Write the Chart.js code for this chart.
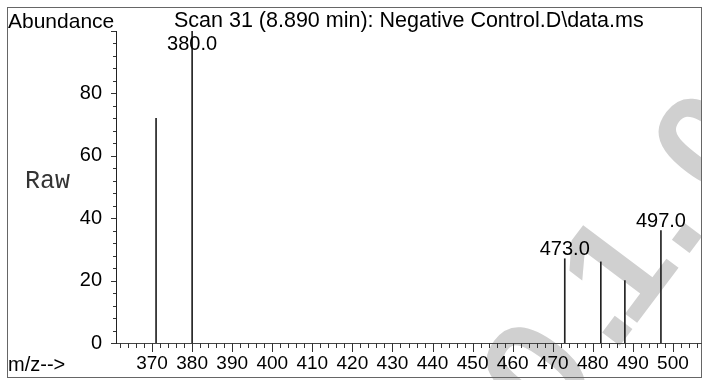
<!DOCTYPE html>
<html>
<head>
<meta charset="utf-8">
<script src="https://cdn.jsdelivr.net/npm/chart.js@4.4.0/dist/chart.umd.min.js"></script>
<style>
  html, body { margin: 0; padding: 0; background: #fff; }
</style>
</head>
<body>
<canvas id="spectrum" width="702" height="380"></canvas>
<script>
// peaks
const mz = [371, 380, 473, 482, 488, 497];
const abundance = [72, 100, 27, 26, 20, 36];
const peakLabels = ['', '380.0', '473.0', '', '', '497.0'];

const xTicks = [370, 380, 390, 400, 410, 420, 430, 440, 450, 460, 470, 480, 490, 500];
const yTicks = [0, 20, 40, 60, 80];

const FONT = '"Liberation Sans", Arial, Helvetica, sans-serif';

// faint watermark glyphs: [char, offset along its baseline]
const markChars = [['0', -150], ['.', -68], ['1', -18], ['.', 48], ['0', 136]];

const decorations = {
    id: 'decorations',
    beforeDraw(chart) {
        const ctx = chart.ctx;
        ctx.save();
        // watermark, rotated text behind everything
        ctx.translate(667, 283);
        ctx.rotate(-53 * Math.PI / 180);
        ctx.fillStyle = '#d0d0d0';
        ctx.font = 'bold 148px ' + FONT;
        ctx.textAlign = 'center';
        ctx.textBaseline = 'alphabetic';
        markChars.forEach(([ch, s]) => ctx.fillText(ch, s, 0));
        ctx.restore();

        ctx.save();
        ctx.strokeStyle = '#666';
        ctx.lineWidth = 1;
        ctx.strokeRect(7.5, 7.5, 694, 370);
        ctx.restore();
    },
    afterDraw(chart) {
        const ctx = chart.ctx;
        const x = chart.scales.x;
        const y = chart.scales.y;
        ctx.save();
        ctx.strokeStyle = '#333';
        ctx.lineWidth = 1;
        ctx.beginPath();
        for (let v = 362; v <= 506; v += 2) {
            const px = Math.round(x.getPixelForValue(v)) + 0.5;
            const len = v % 10 === 0 ? 9 : 5;
            ctx.moveTo(px, y.bottom);
            ctx.lineTo(px, y.bottom + len);
        }
        for (let v = 0; v <= 100; v += 4) {
            const py = Math.round(y.getPixelForValue(v)) + 0.5;
            const len = v % 20 === 0 ? 5 : 3;
            ctx.moveTo(x.left, py);
            ctx.lineTo(x.left - len, py);
        }
        ctx.stroke();

        ctx.fillStyle = '#000';
        ctx.textBaseline = 'alphabetic';
        ctx.textAlign = 'left';
        ctx.font = '21px ' + FONT;
        ctx.fillText('Abundance', 8, 28);
        ctx.font = '21.5px ' + FONT;
        ctx.fillText('Scan 31 (8.890 min): Negative Control.D\\data.ms', 174, 27);
        ctx.font = '20px ' + FONT;
        ctx.fillText('m/z-->', 8, 371);
        ctx.fillStyle = '#333';
        ctx.font = '25px "Courier New", "Liberation Mono", monospace';
        ctx.fillText('Raw', 25, 188);

        // peak labels above the stems
        ctx.fillStyle = '#000';
        ctx.font = '20px ' + FONT;
        ctx.textAlign = 'center';
        mz.forEach((m, i) => {
            if (!peakLabels[i]) return;
            const px = x.getPixelForValue(m);
            const py = Math.max(y.getPixelForValue(abundance[i]) - 4, 50);
            ctx.fillText(peakLabels[i], px, py);
        });
        ctx.restore();
    }
};

new Chart(document.getElementById('spectrum'), {
    type: 'bar',
    data: {
        datasets: [{
            data: mz.map((m, i) => ({ x: m, y: abundance[i] })),
            backgroundColor: '#222',
            barThickness: 1
        }]
    },
    options: {
        responsive: false,
        animation: false,
        devicePixelRatio: 1,
        layout: { padding: { left: 0, top: 31, right: 1, bottom: 0 } },
        plugins: { legend: { display: false }, tooltip: { enabled: false } },
        scales: {
            x: {
                type: 'linear',
                min: 361,
                max: 507,
                offset: false,
                grid: { display: false, offset: false },
                border: { display: true, color: '#444', width: 1 },
                afterBuildTicks: scale => { scale.ticks = xTicks.map(v => ({ value: v })); },
                afterFit: scale => { scale.height = 37; },
                ticks: {
                    autoSkip: false,
                    maxRotation: 0,
                    padding: 1,
                    color: '#000',
                    font: { family: FONT, size: 19 }
                }
            },
            y: {
                min: 0,
                max: 100,
                grid: { display: false },
                border: { display: true, color: '#222', width: 1 },
                afterBuildTicks: scale => { scale.ticks = yTicks.map(v => ({ value: v })); },
                afterFit: scale => { scale.width = 116; },
                ticks: {
                    padding: 6,
                    color: '#000',
                    font: { family: FONT, size: 20 }
                }
            }
        }
    },
    plugins: [decorations]
});
</script>
</body>
</html>
